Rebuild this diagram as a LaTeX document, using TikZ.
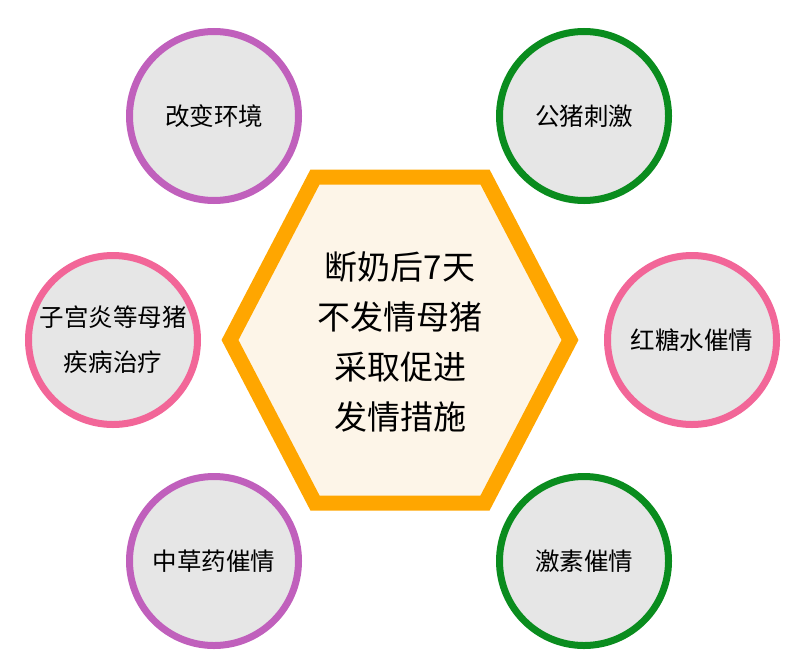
\documentclass[tikz,border=0pt]{standalone}
\usepackage{fontspec}
\setmainfont{Noto Sans CJK SC}
\definecolor{hexorange}{RGB}{255,166,0}
\definecolor{hexfill}{RGB}{253,245,232}
\definecolor{ringpurple}{RGB}{192,96,188}
\definecolor{ringpink}{RGB}{242,102,152}
\definecolor{ringgreen}{RGB}{10,140,30}
\definecolor{discfill}{RGB}{230,230,230}
\begin{document}
\begin{tikzpicture}[x=0.5pt,y=-0.5pt]
        \tikzstyle{measure}=[circle,line width=3.5pt,fill=discfill,minimum size=84.5pt,inner sep=0pt,align=center,font=\fontsize{12.25}{22.5}\selectfont]
        \tikzstyle{hub}=[draw=hexorange,line width=7.5pt,fill=hexfill,line join=miter]
        \useasboundingbox (0,0) rectangle (806,664);

        % centre hexagon
        \draw[hub] (230,340) -- (315,177) -- (485,177) -- (570,340) -- (485,503) -- (315,503) -- cycle;
        \node [align=center,font=\fontsize{16.5}{25}\selectfont] (core) at (400,342) {断奶后7天\\不发情母猪\\采取促进\\发情措施};

        % measures round it
        \node [measure,draw=ringpurple] (m1) at (214,116) {改变环境};
        \node [measure,draw=ringgreen] (m2) at (584,116) {公猪刺激};
        \node [measure,draw=ringpink] (m3) at (113,340) {子宫炎等母猪\\疾病治疗};
        \node [measure,draw=ringpink] (m4) at (692,340) {红糖水催情};
        \node [measure,draw=ringpurple] (m5) at (214,561) {中草药催情};
        \node [measure,draw=ringgreen] (m6) at (584,561) {激素催情};
\end{tikzpicture}
\end{document}
